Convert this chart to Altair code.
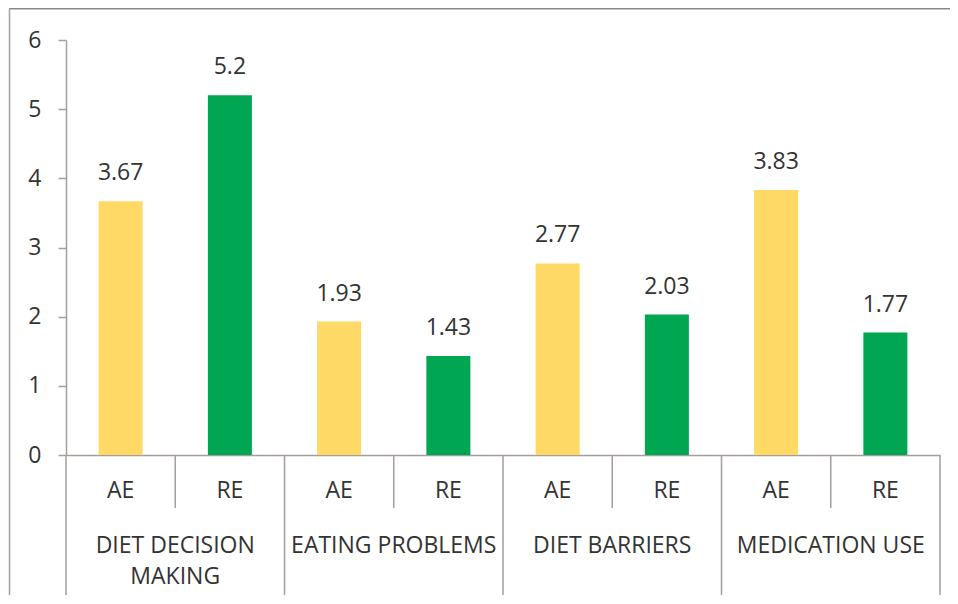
import altair as alt
import pandas as pd

groups = ["DIET DECISION\nMAKING", "EATING PROBLEMS", "DIET BARRIERS", "MEDICATION USE"]
series = ["AE", "RE"]
ae_values = [3.67, 1.93, 2.77, 3.83]
re_values = [5.2, 1.43, 2.03, 1.77]
ae_labels = ["3.67", "1.93", "2.77", "3.83"]
re_labels = ["5.2", "1.43", "2.03", "1.77"]
y_ticks = [0, 1, 2, 3, 4, 5, 6]

YELLOW = "#FFD966"
GREEN = "#00A651"
AXIS = "#A59E9B"
FRAME = "#8E8682"
TEXT = "#333333"
FONT = "Open Sans"
FS = 23

rows = []
for gi, g in enumerate(groups):
    for si, (s, vals, labs) in enumerate(zip(series, [ae_values, re_values], [ae_labels, re_labels])):
        slot = gi * 2 + si
        rows.append({"group": g, "series": s, "value": vals[gi], "label": labs[gi],
                     "center": slot + 0.5})
bars_df = pd.DataFrame(rows)

group_df = pd.DataFrame({"group": groups, "center": [gi * 2 + 1 for gi in range(len(groups))]})
sep_short = pd.DataFrame({"pos": [gi * 2 + 1 for gi in range(len(groups))]})
sep_long = pd.DataFrame({"pos": [gi * 2 for gi in range(len(groups) + 1)]})

xscale = alt.Scale(domain=[0, 8], nice=False, zero=False, padding=0)
yscale = alt.Scale(domain=[0, 6], nice=False)

base = alt.Chart(bars_df)

bars = base.mark_bar(size=44).encode(
    x=alt.X("center:Q", scale=xscale,
            axis=alt.Axis(labels=False, ticks=False, grid=False, title=None,
                          domainColor=AXIS, domainWidth=1.5)),
    y=alt.Y("value:Q", scale=yscale,
            axis=alt.Axis(values=y_ticks, format="d", grid=False, title=None, tickSize=8,
                          tickColor=AXIS, domainColor=AXIS, domainWidth=1.5, tickWidth=1.5,
                          labelFont=FONT, labelFontSize=FS, labelColor=TEXT,
                          labelPadding=17)),
    color=alt.Color("series:N", scale=alt.Scale(domain=series, range=[YELLOW, GREEN]), legend=None),
)

values_txt = base.mark_text(font=FONT, fontSize=FS, color=TEXT, baseline="middle", dy=-28).encode(
    x=alt.X("center:Q", scale=xscale),
    y=alt.Y("value:Q", scale=yscale),
    text="label:N",
)

series_txt = base.mark_text(font=FONT, fontSize=FS, color=TEXT, baseline="middle").encode(
    x=alt.X("center:Q", scale=xscale),
    y=alt.value(451),
    text="series:N",
)

group_txt = alt.Chart(group_df).mark_text(font=FONT, fontSize=FS, color=TEXT, baseline="middle",
                                           lineBreak="\n", lineHeight=31).encode(
    x=alt.X("center:Q", scale=xscale),
    y=alt.value(506),
    text="group:N",
)

short_rules = alt.Chart(sep_short).mark_rule(color=AXIS, strokeWidth=1.5).encode(
    x=alt.X("pos:Q", scale=xscale),
    y=alt.value(415),
    y2=alt.value(468),
)
long_rules = alt.Chart(sep_long).mark_rule(color=AXIS, strokeWidth=1.5).encode(
    x=alt.X("pos:Q", scale=xscale),
    y=alt.value(415),
    y2=alt.value(555),
)

frame_top = alt.Chart(bars_df.head(1)).mark_rule(color=FRAME, strokeWidth=2).encode(
    x=alt.value(-57), x2=alt.value(900), y=alt.value(-31.5))
frame_left = alt.Chart(bars_df.head(1)).mark_rule(color="#A89C98", strokeWidth=1.5).encode(
    x=alt.value(-56.5), y=alt.value(-31), y2=alt.value(560))

chart = alt.layer(frame_top, frame_left, bars, values_txt, short_rules, long_rules,
                  series_txt, group_txt).properties(
    width=874, height=415,
    padding={"left": 58, "top": 32, "right": 10, "bottom": 140},
    autosize="none",
    background="white",
).configure(
    view=alt.ViewConfig(stroke="transparent", strokeWidth=0),
    style={"cell": {"stroke": "transparent", "strokeWidth": 0}},
)

chart.save("out.html", embed_options={"renderer": "svg", "actions": False})
